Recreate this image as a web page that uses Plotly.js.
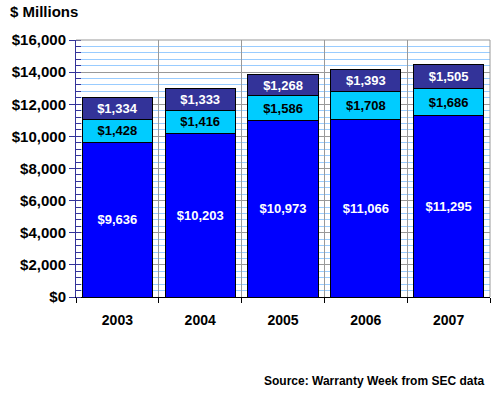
<!DOCTYPE html>
<html><head><meta charset="utf-8">
<script src="https://cdn.plot.ly/plotly-3.0.1.min.js"></script>
<style>html,body{margin:0;padding:0;background:#fff;}#chart{width:500px;height:395px;}</style>
</head><body><div id="chart"></div>
<script>
const years = ['2003','2004','2005','2006','2007'];
const bottomVals = [9636, 10203, 10973, 11066, 11295];
const middleVals = [1428, 1416, 1586, 1708, 1686];
const topVals = [1334, 1333, 1268, 1393, 1505];
const yTickVals = [0,2000,4000,6000,8000,10000,12000,14000,16000];
const yTickText = yTickVals.map(v => '$' + v.toLocaleString('en-US'));

const FONT = 'Liberation Sans, Arial, sans-serif';
function seg(vals, color, txtColor){
  return {
    type:'bar', x:years, y:vals,
    marker:{color:color, line:{color:'#000', width:1}},
    texttemplate:'<b>$%{y:,}</b>', textposition:'inside', insidetextanchor:'middle',
    constraintext:'none',
    textfont:{family:FONT, size:13, color:txtColor},
    hoverinfo:'skip', showlegend:false
  };
}
const data = [
  seg(bottomVals, '#0000FF', '#FFFFFF'),
  seg(middleVals, '#00CCFF', '#000000'),
  seg(topVals, '#333399', '#FFFFFF')
];
const layout = {
  width:500, height:395,
  margin:{l:76, r:10, t:40, b:98},
  barmode:'stack', bargap:0.15,
  paper_bgcolor:'#fff', plot_bgcolor:'#fff',
  font:{family:FONT, color:'#000'},
  xaxis:{
    type:'category', tickson:'boundaries', ticks:'outside', ticklen:5, tickcolor:'#000',
    showgrid:true, gridcolor:'#999999', gridwidth:1,
    showline:true, linecolor:'#000', linewidth:1, mirror:false,
    tickfont:{family:FONT, size:14, color:'#000', weight:'bold'},
    ticklabelstandoff:10,
    zeroline:false
  },
  yaxis:{
    range:[0,16000], tickmode:'array', tickvals:yTickVals, ticktext:yTickText,
    ticks:'outside', ticklen:6, tickcolor:'#333399',
    showline:true, linecolor:'#333399', linewidth:1,
    showgrid:true, gridcolor:'#999999', gridwidth:1,
    zeroline:false,
    tickfont:{family:FONT, size:15, color:'#000', weight:'bold'},
    minor:{dtick:400, tick0:0, showgrid:true, gridcolor:'#99CCFF', gridwidth:1, ticks:'inside', ticklen:5, tickcolor:'#333399'}
  },
  shapes:[
    {type:'line', xref:'paper', yref:'paper', x0:0, x1:1, y0:1, y1:1, line:{color:'#999999', width:1}},
    {type:'line', xref:'paper', yref:'paper', x0:1, x1:1, y0:0, y1:1, line:{color:'#999999', width:1}}
  ],
  annotations:[
    {xref:'paper', yref:'paper', x:-0.164, y:1.109, xanchor:'left', yanchor:'middle', showarrow:false,
     text:'<b>$ Millions</b>', font:{family:FONT, size:15, color:'#000'}},
    {xref:'paper', yref:'paper', x:0.99, y:-0.327, xanchor:'right', yanchor:'middle', showarrow:false,
     text:'<b>Source: Warranty Week from SEC data</b>', font:{family:FONT, size:12, color:'#000'}}
  ]
};
Plotly.newPlot('chart', data, layout, {displayModeBar:false, staticPlot:true});
</script></body></html>
